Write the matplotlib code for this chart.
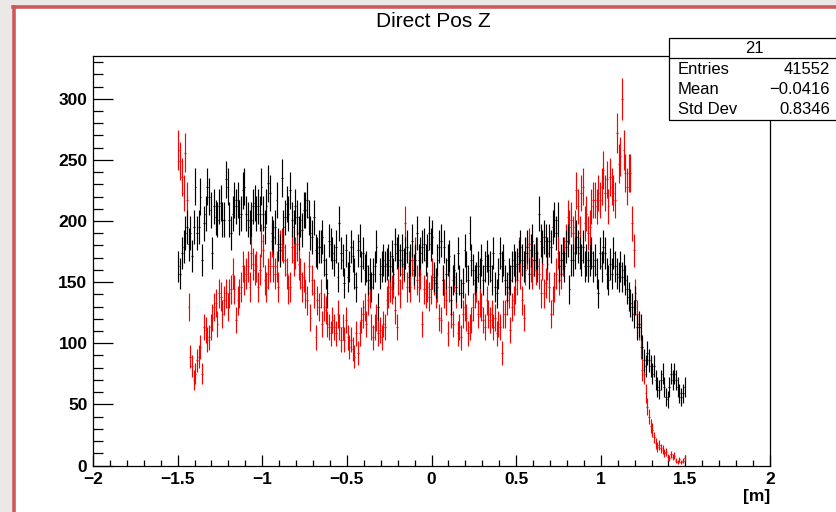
import numpy as np
import matplotlib
matplotlib.use("Agg")
import matplotlib.pyplot as plt
from matplotlib.patches import Rectangle
from matplotlib.lines import Line2D
from matplotlib.ticker import MultipleLocator

# ---------------- data ----------------
title = "Direct Pos Z"
x_label = "[m]"
x_lo, x_hi, n_bins = -1.5, 1.5, 300

red_counts = [
    # -1.50 .. -0.88
    258, 249, 236, 223, 256, 217, 130, 89, 81, 70, 75, 86, 89, 97, 75, 113, 111, 103, 105, 113,
    121, 130, 133, 116, 141, 138, 124, 135, 141, 130, 141, 144, 157, 144, 119, 135, 141, 146, 163, 152,
    157, 163, 146, 174, 165, 160, 163, 146, 160, 184, 176, 152, 146, 157, 163, 184, 163, 157, 163, 146,
    179, 181,
    # -0.88 .. -0.28
    179, 168, 157, 144, 146, 179, 168, 174, 181, 165, 157, 146, 154, 141, 135, 163, 121, 152, 141, 105,
    135, 130, 141, 116, 130, 127, 116, 113, 108, 119, 113, 108, 124, 113, 103, 113, 103, 119, 105, 97,
    103, 95, 89, 108, 92, 108, 119, 124, 130, 116, 135, 141, 113, 105, 113, 121, 108, 111, 105, 116,
    # -0.28 .. 0.34
    113, 135, 141, 146, 144, 149, 127, 113, 152, 141, 157, 163, 198, 146, 163, 146, 168, 157, 174, 152,
    146, 157, 116, 144, 141, 146, 138, 144, 157, 152, 141, 146, 121, 119, 152, 141, 135, 108, 146, 124,
    116, 154, 141, 108, 113, 105, 124, 130, 121, 108, 113, 119, 130, 141, 146, 124, 133, 130, 119, 113,
    135, 124,
    # 0.34 .. 0.96
    119, 124, 113, 121, 108, 116, 113, 92, 124, 124, 135, 141, 111, 130, 135, 144, 152, 174, 157, 135,
    121, 160, 174, 181, 163, 157, 168, 160, 174, 157, 141, 165, 141, 149, 165, 146, 124, 135, 146, 157,
    174, 152, 157, 168, 174, 184, 203, 195, 201, 190, 195, 225, 212, 190, 223, 228, 198, 206, 190, 195,
    212, 217,
    # 0.96 .. 1.50
    217, 212, 223, 217, 228, 242, 223, 234, 212, 236, 228, 223, 217, 272, 247, 253, 300, 258, 239, 228,
    239, 239, 198, 176, 141, 124, 113, 97, 78, 75, 59, 48, 40, 32, 29, 23, 18, 15, 17, 14,
    13, 10, 11, 7, 6, 9, 7, 8, 4, 3, 5, 3, 4, 6,
]

black_counts = [
    # -1.50 .. -0.88
    163, 157, 174, 179, 190, 195, 181, 190, 171, 195, 228, 190, 195, 220, 168, 198, 206, 228, 220, 209,
    174, 212, 203, 201, 212, 215, 201, 201, 234, 228, 201, 190, 206, 217, 212, 217, 203, 206, 225, 228,
    206, 201, 195, 201, 212, 215, 206, 212, 206, 228, 206, 195, 212, 231, 223, 190, 187, 195, 217, 181,
    176, 235,
    # -0.88 .. -0.28
    195, 203, 214, 206, 225, 201, 195, 212, 203, 190, 201, 193, 209, 209, 217, 203, 190, 187, 203, 176,
    174, 179, 179, 187, 168, 157, 141, 184, 181, 174, 168, 179, 154, 198, 174, 168, 149, 176, 154, 163,
    179, 171, 157, 146, 176, 184, 163, 174, 160, 163, 152, 157, 146, 157, 163, 179, 130, 157, 163, 168,
    # -0.28 .. 0.34
    163, 165, 168, 163, 171, 157, 181, 174, 176, 168, 176, 165, 174, 179, 154, 168, 184, 160, 168, 190,
    168, 174, 179, 181, 168, 176, 190, 181, 187, 154, 149, 168, 179, 184, 152, 179, 157, 168, 171, 135,
    152, 160, 146, 174, 152, 141, 149, 176, 163, 152, 190, 168, 160, 152, 154, 163, 157, 168, 152, 163,
    171, 160,
    # 0.34 .. 0.96
    163, 152, 174, 146, 141, 157, 174, 163, 168, 152, 146, 157, 152, 163, 168, 163, 165, 171, 179, 168,
    163, 174, 179, 157, 176, 184, 168, 174, 163, 206, 184, 179, 187, 184, 174, 184, 179, 195, 201, 190,
    201, 163, 168, 174, 163, 179, 184, 144, 168, 168, 174, 187, 179, 174, 168, 179, 163, 168, 163, 168,
    174, 163,
    # 0.96 .. 1.50
    168, 157, 141, 174, 163, 179, 174, 157, 152, 165, 157, 174, 163, 157, 154, 163, 154, 160, 152, 144,
    138, 133, 130, 124, 135, 113, 116, 113, 97, 86, 81, 92, 86, 81, 75, 81, 70, 64, 62, 70,
    75, 64, 56, 54, 64, 75, 70, 75, 70, 64, 59, 56, 59, 64,
]

x_major_ticks = [-2, -1.5, -1, -0.5, 0, 0.5, 1, 1.5, 2]
x_tick_labels = ["\u22122", "\u22121.5", "\u22121", "\u22120.5", "0", "0.5", "1", "1.5", "2"]
y_major_ticks = [0, 50, 100, 150, 200, 250, 300]

stats_name = "21"
stats_labels = ["Entries", "Mean", "Std Dev"]
stats_values = ["41552", "\u22120.0416", "0.8346"]

# ---------------- figure ----------------
W, H = 836, 512
fig = plt.figure(figsize=(W / 100, H / 100), dpi=100, facecolor="#ece8e8")

def fx(px):
    return px / W

def fy(py):
    return 1 - py / H

# white canvas with red frame
fig.add_artist(Rectangle((fx(15), 0), fx(W - 15), fy(8), transform=fig.transFigure,
                         facecolor="white", edgecolor="none", zorder=0))
red_frame = "#cc5a5a"
fig.add_artist(Line2D([fx(14), fx(14)], [0, fy(6.5)], color=red_frame, lw=2.6,
                      transform=fig.transFigure, zorder=1))
fig.add_artist(Line2D([fx(12.5), 1], [fy(6.5), fy(6.5)], color=red_frame, lw=2.6,
                      transform=fig.transFigure, zorder=1))

ax = fig.add_axes([fx(93), fy(465.5), fx(770 - 93), (465.5 - 56) / H])
ax.set_facecolor("white")

edges = np.linspace(x_lo, x_hi, n_bins + 1)
centers = 0.5 * (edges[:-1] + edges[1:])
half_w = 0.5 * (edges[1] - edges[0])

red = np.array(red_counts, dtype=float)
blk = np.array(black_counts, dtype=float)

ax.errorbar(centers, red, yerr=np.sqrt(red), xerr=half_w, fmt="none",
            ecolor="#ff0000", elinewidth=0.85, capsize=0, zorder=2)
ax.errorbar(centers, blk, yerr=np.sqrt(blk), xerr=half_w, fmt="none",
            ecolor="black", elinewidth=0.85, capsize=0, zorder=3)

ax.set_xlim(-2, 2)
ax.set_ylim(0, 335)

ax.set_xticks(x_major_ticks)
ax.set_xticklabels(x_tick_labels)
ax.set_yticks(y_major_ticks)
ax.xaxis.set_minor_locator(MultipleLocator(0.1))
ax.yaxis.set_minor_locator(MultipleLocator(10))

tick_font = dict(family="Liberation Sans", weight="bold", size=12.5)
for lab in ax.get_xticklabels() + ax.get_yticklabels():
    lab.set_fontfamily("Liberation Sans")
    lab.set_fontweight("bold")
    lab.set_fontsize(12.5)

ax.tick_params(axis="x", which="major", direction="in", length=8, width=0.9,
               top=False, pad=5, colors="black")
ax.tick_params(axis="x", which="minor", direction="in", length=4, width=0.9, top=False)
ax.tick_params(axis="y", which="major", direction="in", length=14.5, width=0.9,
               right=False, pad=4, colors="black")
ax.tick_params(axis="y", which="minor", direction="in", length=7.2, width=0.9, right=False)
for s in ax.spines.values():
    s.set_linewidth(0.9)
    s.set_color("black")

# axis title "[m]"
fig.text(fx(770), fy(497), x_label, ha="right", va="center", **tick_font)

# title
fig.text(fx(433.5), fy(21.5), title, ha="center", va="center",
         family="Liberation Sans", fontsize=15)

# statistics box
bx0, by0, bx1, by1 = 669, 38, 840, 120
fig.add_artist(Rectangle((fx(bx0), fy(by1)), fx(bx1 - bx0), (by1 - by0) / H,
                         transform=fig.transFigure, facecolor="white",
                         edgecolor="black", lw=0.9, zorder=5))
fig.add_artist(Line2D([fx(bx0), fx(bx1)], [fy(58), fy(58)], color="black", lw=0.9,
                      transform=fig.transFigure, zorder=6))
stat_font = dict(family="Liberation Sans", fontsize=12, zorder=7)
fig.text(fx(754), fy(48.5), stats_name, ha="center", va="center", **stat_font)
rows_y = [70, 90, 110]
for lab, val, yy in zip(stats_labels, stats_values, rows_y):
    fig.text(fx(678), fy(yy), lab, ha="left", va="center", **stat_font)
    fig.text(fx(830), fy(yy), val, ha="right", va="center", **stat_font)

fig.savefig("out.png", dpi=100, facecolor=fig.get_facecolor())
